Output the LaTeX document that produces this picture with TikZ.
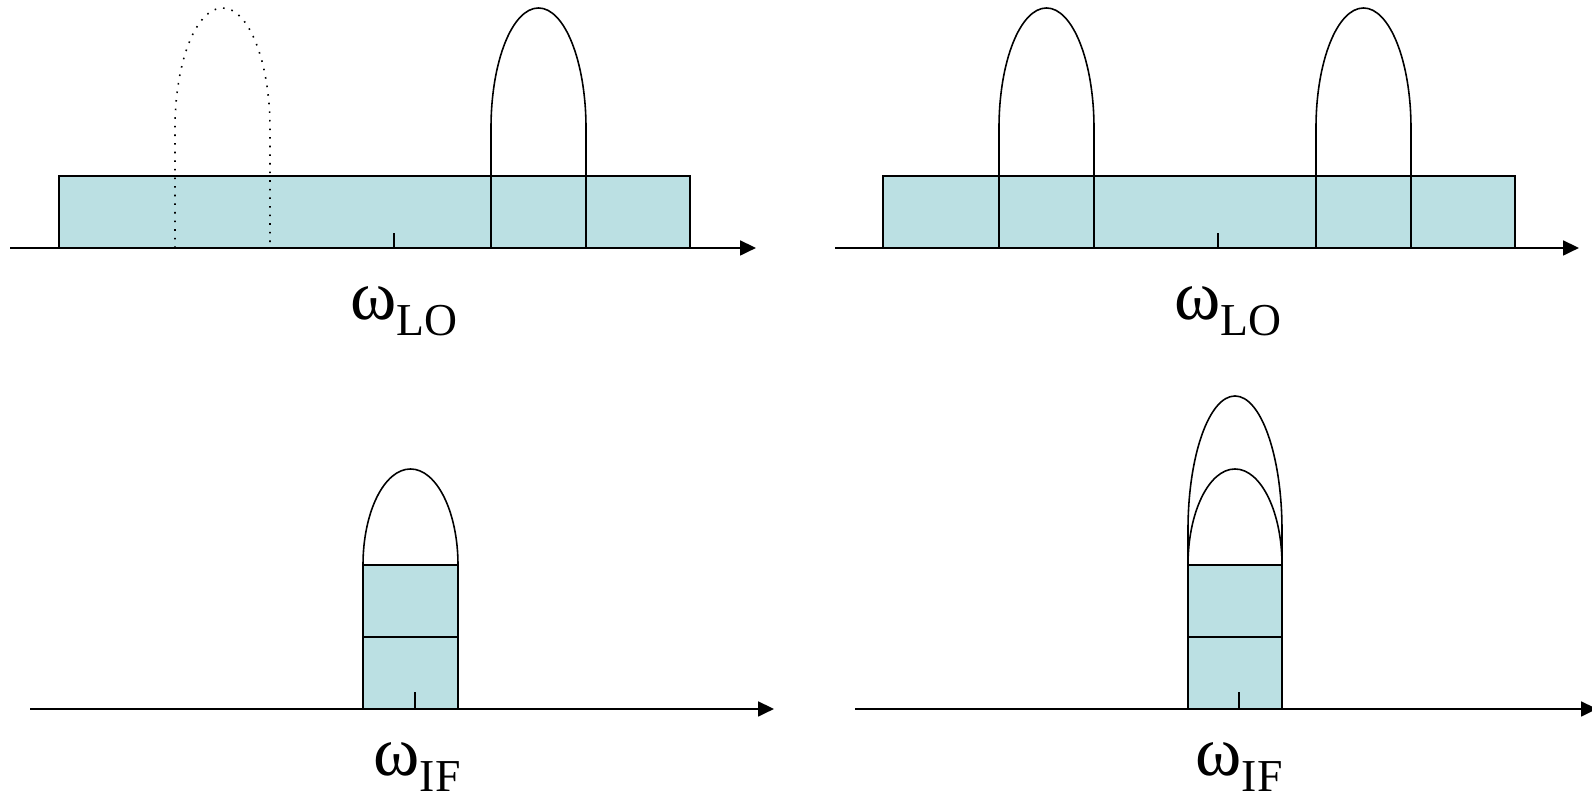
\documentclass[tikz,border=0pt]{standalone}
\usepackage{fontspec}
\setmainfont{Liberation Serif}
\usepackage{xcolor}
\usepackage{tikz}
\usetikzlibrary{arrows.meta}

\definecolor{bandfill}{RGB}{187,224,227}
\newcommand{\freqlabel}[1]{{\fontsize{20}{24}\selectfont ω}\raisebox{-4.3pt}{\fontsize{13}{15}\selectfont #1}}

\begin{document}
\begin{tikzpicture}[
  band/.style={draw, line width=0.6pt, fill=bandfill},
  lobe/.style={draw, line width=0.45pt},
  ghost/.style={lobe, dotted},
  axis/.style={line width=0.6pt, -{Triangle[length=4.5pt,width=4.2pt]}},
  tickmark/.style={line width=0.5pt},
  lbl/.style={anchor=base, inner sep=0pt}
]
\useasboundingbox (0,0) rectangle (15.92,7.98);

% top left: RF band with image lobe
\draw[band] (0.59,5.50) rectangle (6.90,6.22);
\draw[ghost] (1.75,5.50) -- (1.75,6.70) arc[start angle=180, end angle=0, x radius=0.475, y radius=1.20] -- (2.70,5.50);
\draw[lobe] (4.91,5.50) -- (4.91,6.70) arc[start angle=180, end angle=0, x radius=0.475, y radius=1.20] -- (5.86,5.50) -- cycle;
\draw[tickmark] (3.94,5.50) -- (3.94,5.65);
\draw[axis] (0.10,5.50) -- (7.56,5.50);
\node[lbl] (lo-left) at (4.04,4.78) {\freqlabel{LO}};

% top right: both lobes present
\draw[band] (8.83,5.50) rectangle (15.15,6.22);
\foreach \xa in {9.99,13.16}
  \draw[lobe] (\xa,5.50) -- (\xa,6.70) arc[start angle=180, end angle=0, x radius=0.475, y radius=1.20] -- ++(0,-1.20) -- cycle;
\draw[tickmark] (12.18,5.50) -- (12.18,5.65);
\draw[axis] (8.35,5.50) -- (15.79,5.50);
\node[lbl] (lo-right) at (12.28,4.78) {\freqlabel{LO}};

% bottom left: single IF lobe
\draw[band] (3.63,0.89) rectangle (4.58,2.33);
\draw[lobe] (3.63,1.61) -- (4.58,1.61);
\draw[lobe] (3.63,2.33) arc[start angle=180, end angle=0, x radius=0.475, y radius=0.96];
\draw[tickmark] (4.15,0.89) -- (4.15,1.06);
\draw[axis] (0.30,0.89) -- (7.74,0.89);
\node[lbl] (if-left) at (4.17,0.22) {\freqlabel{IF}};

% bottom right: image folds onto IF
\draw[band] (11.88,0.89) rectangle (12.82,2.33);
\draw[lobe] (11.88,1.61) -- (12.82,1.61);
\draw[lobe] (11.88,2.33) arc[start angle=180, end angle=0, x radius=0.47, y radius=0.96];
\draw[lobe] (11.88,0.89) -- (11.88,2.68) arc[start angle=180, end angle=0, x radius=0.47, y radius=1.34] -- (12.82,0.89);
\draw[tickmark] (12.39,0.89) -- (12.39,1.06);
\draw[axis] (8.55,0.89) -- (15.97,0.89);
\node[lbl] (if-right) at (12.39,0.22) {\freqlabel{IF}};
\end{tikzpicture}
\end{document}
